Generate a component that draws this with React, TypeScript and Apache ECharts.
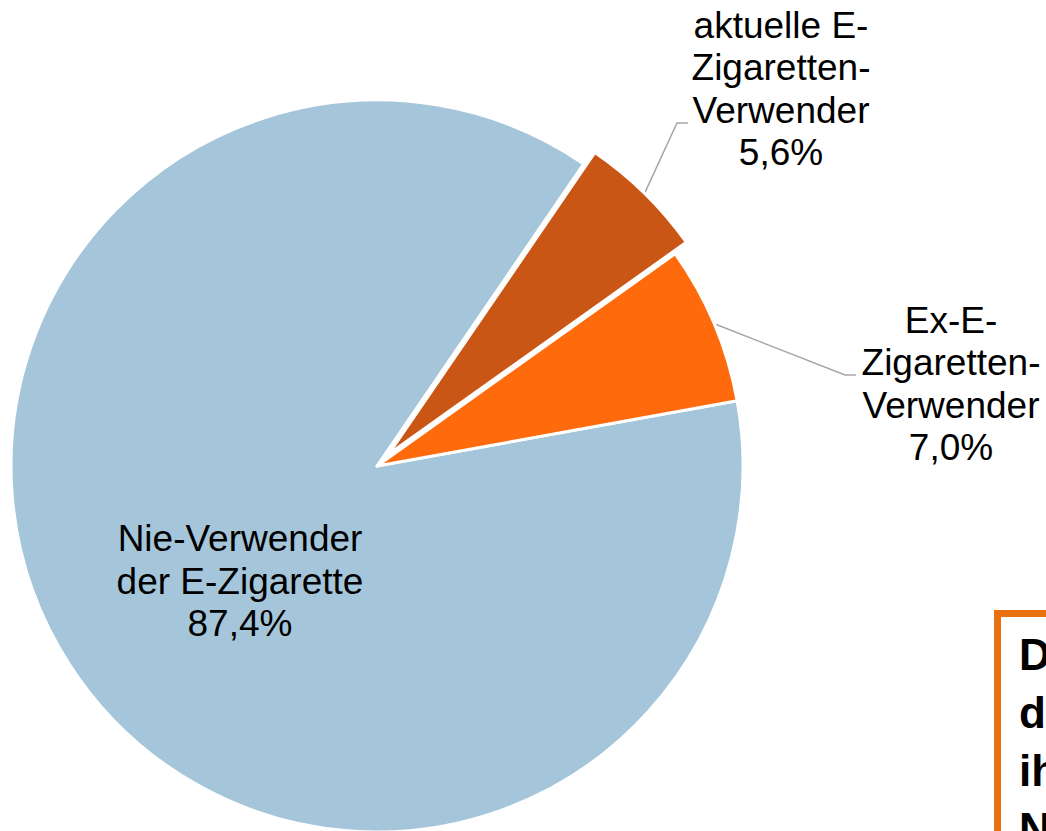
import React, { useEffect, useRef } from "react";
import * as echarts from "echarts";

// ---- data ----
const categories = [
  "Nie-Verwender\nder E-Zigarette",
  "aktuelle E-\nZigaretten-\nVerwender",
  "Ex-E-\nZigaretten-\nVerwender",
];
const shares = [87.4, 5.6, 7.0];
const sliceColors = ["#A5C6DA", "#CA5616", "#FF6A0C"];
const explodedIndex = 1;
const boxText = "D\nd\nih\nN";

// ---- layout (positions / styles) ----
const CX = 377;
const CY = 466;
const R = 366;
const START_ANGLE = 10.26;
const OFFSET = 16;
const labelPos = [
  { x: 240, y: 581, bend: null as null | number[], end: null as null | number[] },
  { x: 781, y: 89, bend: [677, 123], end: [688, 123] },
  { x: 951, y: 384, bend: [845, 375], end: [856, 375] },
];

function fmt(v: number) {
  return v.toFixed(1).replace(".", ",") + "%";
}

const FONT = "Liberation Sans, Arial, sans-serif";

export default function App() {
  const ref = useRef<HTMLDivElement>(null);
  useEffect(() => {
    if (!ref.current) return;
    const chart = echarts.init(ref.current, undefined, { renderer: "svg" });
    const total = shares.reduce((a, b) => a + b, 0);
    const mids: number[] = [];
    let cum = 0;
    shares.forEach((v) => {
      const a0 = START_ANGLE - (cum / total) * 360;
      cum += v;
      const a1 = START_ANGLE - (cum / total) * 360;
      mids.push((a0 + a1) / 2);
    });
    const mEx = (mids[explodedIndex] * Math.PI) / 180;
    const dx = OFFSET * Math.cos(mEx);
    const dy = -OFFSET * Math.sin(mEx);

    const labelLayout = (p: any) => {
      const cfg = labelPos[p.dataIndex];
      const res: any = { x: cfg.x, y: cfg.y, align: "center", verticalAlign: "middle" };
      if (cfg.bend && cfg.end) {
        const m = (mids[p.dataIndex] * Math.PI) / 180;
        const rr = R + (p.dataIndex === explodedIndex ? OFFSET : 0);
        res.labelLinePoints = [
          [CX + rr * Math.cos(m), CY - rr * Math.sin(m)],
          cfg.bend,
          cfg.end,
        ];
      }
      return res;
    };

    const baseSeries = (exploded: boolean) => ({
      type: "pie",
      center: exploded ? [CX + dx, CY + dy] : [CX, CY],
      radius: [0, R],
      startAngle: START_ANGLE,
      clockwise: true,
      avoidLabelOverlap: false,
      emphasis: { disabled: true },
      z: exploded ? 3 : 2,
      label: {
        show: true,
        position: "outside",
        color: "#000000",
        fontFamily: FONT,
        fontSize: 37,
        lineHeight: 42.5,
        align: "center",
        formatter: (p: any) => p.name + "\n" + fmt(p.value),
      },
      labelLine: { show: true, lineStyle: { color: "#A6A6A6", width: 1.5 } },
      labelLayout,
      data: categories.map((name, i) => {
        const visible = exploded ? i === explodedIndex : i !== explodedIndex;
        return {
          name,
          value: shares[i],
          itemStyle: visible
            ? { color: sliceColors[i], borderColor: "#ffffff", borderWidth: 3 }
            : { color: "rgba(0,0,0,0)", borderWidth: 0 },
          label: { show: visible },
          labelLine: { show: visible && i !== 0 },
        };
      }),
    });

    chart.setOption({
      animation: false,
      backgroundColor: "#ffffff",
      series: [baseSeries(false), baseSeries(true)],
      graphic: [
        {
          type: "rect",
          shape: { x: 997.5, y: 613.5, width: 120, height: 300 },
          style: { fill: "#ffffff", stroke: "#E8700E", lineWidth: 7 },
          z: 10,
        },
        {
          type: "text",
          x: 1019,
          y: 625,
          z: 11,
          style: {
            text: boxText,
            fill: "#000000",
            font: "bold 44px 'Liberation Sans', Arial, sans-serif",
            lineHeight: 58,
            verticalAlign: "top",
            align: "left",
          },
        },
      ],
    });
    return () => chart.dispose();
  }, []);
  return (
    <div
      ref={ref}
      style={{ position: "fixed", left: 0, top: 0, width: 1046, height: 831, background: "#fff" }}
    />
  );
}
